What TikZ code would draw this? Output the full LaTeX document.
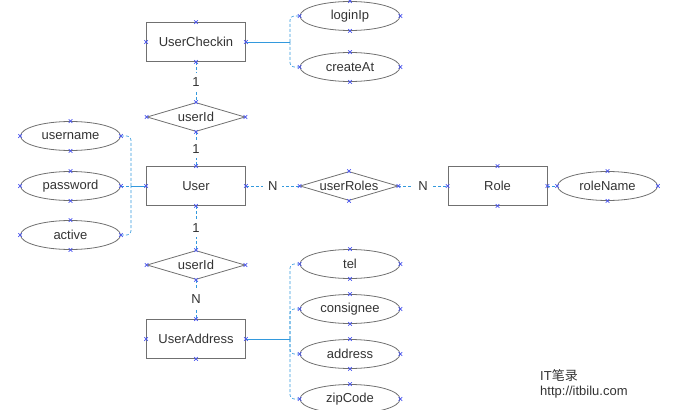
\documentclass[tikz,border=0pt]{standalone}
\usepackage{fontspec}
\setmainfont{Liberation Sans}
\newfontfamily\cjkfont{Noto Sans CJK SC}
\usetikzlibrary{shapes.geometric}

\definecolor{edgegray}{HTML}{707070}
\definecolor{linkblue}{HTML}{3399DD}
\definecolor{markblue}{HTML}{4A55EE}
\definecolor{inkgray}{HTML}{333333}

\tikzset{
  every node/.style={font=\fontsize{13}{15}\selectfont, text=inkgray},
  entity/.style={draw=edgegray, line width=0.8pt, rectangle, minimum width=99pt, minimum height=39pt, inner sep=0pt},
  attr/.style={draw=edgegray, line width=0.8pt, ellipse, minimum width=100pt, minimum height=29pt, inner sep=0pt},
  % the diamond is kept empty so its size is fixed; the name sits in a centred label
  rel/.style={draw=edgegray, line width=0.8pt, diamond, minimum width=98pt, minimum height=29pt, inner sep=0pt,
              label={[inner sep=0pt]center:#1}},
  link/.style={draw=linkblue, dash pattern=on 3pt off 2pt, line width=0.6pt},
  trunk/.style={draw=linkblue, line width=0.6pt},
  card/.style={fill=white, inner sep=5pt},
  anchorcross/.style={draw=markblue, line width=0.6pt},
}

% small crosses at the four compass anchors of a shape
\newcommand\anchormarks[1]{%
  \foreach \a in {north,south,east,west}{%
    \draw[anchorcross] ([shift={(-1.8pt,-1.8pt)}]#1.\a) -- ([shift={(1.8pt,1.8pt)}]#1.\a)
                ([shift={(-1.8pt,1.8pt)}]#1.\a) -- ([shift={(1.8pt,-1.8pt)}]#1.\a);
  }%
}

\begin{document}
\begin{tikzpicture}[x=1pt,y=-1pt]
  \useasboundingbox (0,0) rectangle (676,409);
  \begin{scope}
  \clip (0,0) rectangle (676,409);

  % entities
  \node[entity] (UserCheckin) at (196,42) {UserCheckin};
  \node[entity] (User) at (196,186) {User};
  \node[entity] (Role) at (497.5,186) {Role};
  \node[entity] (UserAddress) at (196,339) {UserAddress};

  % relationships
  \node[rel=userId] (relCheckin) at (196,117) {};
  \node[rel=userRoles] (userRoles) at (349,186) {};
  \node[rel=userId] (relAddress) at (196,265) {};

  % attributes
  \node[attr] (loginIp) at (350,16) {loginIp};
  \node[attr] (createAt) at (350,67) {createAt};
  \node[attr] (username) at (70.5,136) {username};
  \node[attr] (password) at (70.5,186) {password};
  \node[attr] (active) at (70.5,235) {active};
  \node[attr] (roleName) at (607.5,186) {roleName};
  \node[attr] (tel) at (350,264) {tel};
  \node[attr] (consignee) at (350,309) {consignee};
  \node[attr] (address) at (350,354) {address};
  \node[attr] (zipCode) at (350,399) {zipCode};

  % relationship links with cardinalities
  \draw[link] (UserCheckin.south) -- node[card] {1} (relCheckin.north);
  \draw[link] (relCheckin.south) -- node[card] {1} (User.north);
  \draw[link] (User.south) -- node[card] {1} (relAddress.north);
  \draw[link] (relAddress.south) -- node[card] {N} (UserAddress.north);
  \draw[link] (User.east) -- node[card] {N} (userRoles.west);
  \draw[link] (userRoles.east) -- node[card] {N} (Role.west);
  \draw[link] (Role.east) -- (roleName.west);

  % attribute brackets
  \coordinate (ucJoin) at (290,42);
  \draw[trunk] (UserCheckin.east) -- (ucJoin);
  \draw[link, rounded corners=4pt] (ucJoin) |- (loginIp.west);
  \draw[link, rounded corners=4pt] (ucJoin) |- (createAt.west);

  \coordinate (uJoin) at (131,186);
  \draw[trunk] (User.west) -- (uJoin);
  \draw[link] (password.east) -- (uJoin);
  \draw[link, rounded corners=4pt] (username.east) -| (uJoin);
  \draw[link, rounded corners=4pt] (active.east) -| (uJoin);

  \coordinate (uaJoin) at (290,339);
  \draw[trunk] (UserAddress.east) -- (uaJoin);
  \draw[link, rounded corners=4pt] (uaJoin) |- (tel.west);
  \draw[link, rounded corners=4pt] (uaJoin) |- (consignee.west);
  \draw[link, rounded corners=4pt] (uaJoin) |- (address.west);
  \draw[link, rounded corners=4pt] (uaJoin) |- (zipCode.west);

  % anchor crosses
  \foreach \n in {UserCheckin,User,Role,UserAddress,relCheckin,userRoles,relAddress,
                  loginIp,createAt,username,password,active,roleName,tel,consignee,address,zipCode}{%
    \anchormarks{\n}
  }
  \end{scope}

  % site credit
  \node[anchor=west, inner sep=0pt] (credit) at (540,376) {IT{\cjkfont 笔录}};
  \node[anchor=west, inner sep=0pt] (site) at (540,392) {http://itbilu.com};
\end{tikzpicture}
\end{document}
